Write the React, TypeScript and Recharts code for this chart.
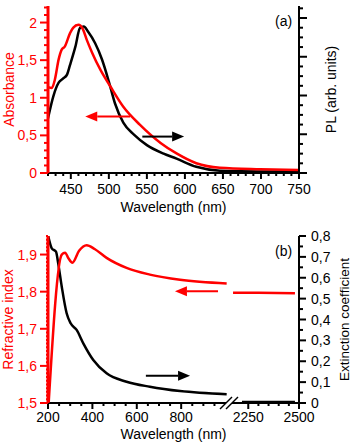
import { LineChart, Line, XAxis, YAxis, ReferenceLine } from 'recharts';

const FONT = '"Liberation Sans", Arial, Helvetica, sans-serif';
const RED = '#ff0000';
const BLACK = '#000000';

// panel (a): absorbance on the left axis, PL (arb. units) on the right axis
const absWl = [420, 425, 429, 434, 438, 442, 449, 453, 460, 466, 471, 478, 489, 502, 519, 541, 568, 589, 615, 646, 699, 750];
const absVal = [1.14, 1.13, 1.24, 1.51, 1.64, 1.68, 1.86, 1.93, 1.97, 1.91, 1.77, 1.6, 1.37, 1.15, 0.88, 0.64, 0.4, 0.26, 0.13, 0.07, 0.05, 0.04];
const plWl = [420, 427, 434, 440, 445, 449, 456, 462, 467, 473, 482, 491, 500, 508, 519, 533, 550, 572, 589, 615, 646, 699, 750];
const plVal = [1.41, 1.98, 2.33, 2.44, 2.54, 2.79, 3.26, 3.74, 3.78, 3.64, 3.35, 2.93, 2.36, 1.8, 1.3, 0.99, 0.72, 0.5, 0.37, 0.16, 0.06, 0.04, 0.04];

// panel (b): refractive index (left) and extinction coefficient (right), broken x axis
const nWlLo = [203, 262, 277, 292, 310, 340, 374, 410, 464, 554, 659, 795, 1005];
const nLo = [1.5, 1.9, 1.905, 1.89, 1.878, 1.91, 1.925, 1.915, 1.891, 1.864, 1.846, 1.832, 1.822];
const kWlLo = [201, 217, 236, 246, 262, 284, 302, 329, 359, 404, 464, 554, 659, 795, 1005];
const kLo = [0.8, 0.741, 0.725, 0.669, 0.557, 0.43, 0.382, 0.35, 0.286, 0.206, 0.142, 0.102, 0.078, 0.057, 0.042];
const nWlHi = [2175, 2300, 2480];
const nHi = [1.797, 1.797, 1.796];
const kWlHi = [2219, 2350, 2480];
const kHi = [0.004, 0.004, 0.004];

// tick labels
const aXMajor = [450, 500, 550, 600, 650, 700, 750];
const aXLabels = ['450', '500', '550', '600', '650', '700', '750'];
const aAbsMajor = [0, 0.5, 1, 1.5, 2];
const aAbsLabels = ['0', '0,5', '1', '1,5', '2'];
const aPlMajor = [0, 1, 2, 3, 4];
const bNMajor = [1.5, 1.6, 1.7, 1.8, 1.9];
const bNLabels = ['1,5', '1,6', '1,7', '1,8', '1,9'];
const bKMajor = [0, 0.1, 0.2, 0.3, 0.4, 0.5, 0.6, 0.7, 0.8];
const bKLabels = ['0', '0,1', '0,2', '0,3', '0,4', '0,5', '0,6', '0,7', '0,8'];
const bXLoMajor = [200, 400, 600, 800];
const bXLoLabels = ['200', '400', '600', '800'];
const bXHiMajor = [2250, 2500];
const bXHiLabels = ['2250', '2500'];
const BREAK_AT = 2160;

const absData = absWl.map((w, i) => ({ w, v: absVal[i] }));
const plData = plWl.map((w, i) => ({ w, v: plVal[i] }));
const nLoData = nWlLo.map((w, i) => ({ w, v: nLo[i] }));
const kLoData = kWlLo.map((w, i) => ({ w, v: kLo[i] }));
const nHiData = nWlHi.map((w, i) => ({ w, v: nHi[i] }));
const kHiData = kWlHi.map((w, i) => ({ w, v: kHi[i] }));

const steps = (a: number, b: number, step: number) => {
  const out: number[] = [];
  for (let i = 0; a + i * step <= b + 1e-9; i++) out.push(Math.round((a + i * step) * 1000) / 1000);
  return out;
};

type Side = 'bottom' | 'top' | 'left' | 'right';

function makeTick(side: Side, majors: number[], labels: string[] | null, color: string, majorLen: number, minorLen: number, gap = 21) {
  return (props: any) => {
    const { x, y, payload } = props;
    const v = Number(payload.value);
    if (v === BREAK_AT) {
      // the "//" axis break mark
      return (
        <g>
          <polygon points={`${x - 10},${y + 6} ${x + 2},${y - 6} ${x + 8},${y - 6} ${x - 4},${y + 6}`} fill="#fff" />
          <line x1={x - 10} y1={y + 6} x2={x + 2} y2={y - 6} stroke={BLACK} strokeWidth={1.5} />
          <line x1={x - 4} y1={y + 6} x2={x + 8} y2={y - 6} stroke={BLACK} strokeWidth={1.5} />
        </g>
      );
    }
    const i = majors.findIndex((m) => Math.abs(m - v) < 1e-6);
    const len = i >= 0 ? majorLen : minorLen;
    const label = i >= 0 && labels ? labels[i] : '';
    const ln = { stroke: color, strokeWidth: 2 };
    const txt = { fill: color, fontSize: 14, fontFamily: FONT };
    if (side === 'bottom') {
      return (
        <g>
          <line x1={x} y1={y} x2={x} y2={y + len} {...ln} />
          {label && <text x={x} y={y + gap} textAnchor="middle" {...txt}>{label}</text>}
        </g>
      );
    }
    if (side === 'top') {
      return <line x1={x} y1={y} x2={x} y2={y - len} {...ln} />;
    }
    if (side === 'left') {
      return (
        <g>
          <line x1={x} y1={y} x2={x - len} y2={y} {...ln} />
          {label && <text x={x - 11} y={y} textAnchor="end" dominantBaseline="central" {...txt}>{label}</text>}
        </g>
      );
    }
    return (
      <g>
        <line x1={x} y1={y} x2={x + len} y2={y} {...ln} />
        {label && <text x={x + 12} y={y} textAnchor="start" dominantBaseline="central" {...txt}>{label}</text>}
      </g>
    );
  };
}

const vTitle = (text: string, color: string, dx: number, size = 14) => (props: any) => {
  const vb = props.viewBox;
  const cx = vb.x + dx;
  const cy = vb.y + vb.height / 2;
  return (
    <text x={cx} y={cy} transform={`rotate(-90 ${cx} ${cy})`} textAnchor="middle" dominantBaseline="central" fill={color} fontSize={size} fontFamily={FONT}>
      {text}
    </text>
  );
};

const hTitle = (text: string, dy: number) => (props: any) => {
  const vb = props.viewBox;
  return (
    <text x={vb.x + vb.width / 2} y={vb.y + dy} textAnchor="middle" fill={BLACK} fontSize={14} fontFamily={FONT}>
      {text}
    </text>
  );
};

const arrow = (color: string) => (props: any) => {
  const { x1, y1, x2, y2 } = props;
  const dir = Math.sign(x2 - x1) || 1;
  const head = 12;
  return (
    <g>
      <line x1={x1} y1={y1} x2={x2 - dir * head} y2={y2} stroke={color} strokeWidth={2} />
      <polygon points={`${x2},${y2} ${x2 - dir * head},${y2 - 5} ${x2 - dir * head},${y2 + 5}`} fill={color} />
    </g>
  );
};

const axisBlack = { stroke: BLACK, strokeWidth: 2 };
const axisRed = { stroke: RED, strokeWidth: 3 };

function PanelA() {
  const xTicks = steps(420, 750, 10);
  return (
    <LineChart width={352} height={220} margin={{ top: 6, right: 0, bottom: 0, left: 0 }}>
      <XAxis xAxisId="x" dataKey="w" type="number" domain={[420, 750]} allowDataOverflow ticks={xTicks} interval={0}
        height={47} tickSize={0} tickMargin={0} tickLine={false} axisLine={axisBlack}
        tick={makeTick('bottom', aXMajor, aXLabels, BLACK, 6, 3, 21)} label={{ content: hTitle('Wavelength (nm)', 39) }} />
      <XAxis xAxisId="top" orientation="top" dataKey="w" type="number" domain={[420, 750]} allowDataOverflow ticks={xTicks} interval={0}
        height={0} tickSize={0} tickMargin={0} tickLine={false} axisLine={axisBlack}
        tick={makeTick('top', aXMajor, null, BLACK, 5, 3)} />
      <YAxis yAxisId="abs" type="number" domain={[0, 2.22]} allowDataOverflow ticks={steps(0, 2.2, 0.1)} interval={0}
        width={48} tickSize={0} tickMargin={0} tickLine={false} axisLine={axisRed}
        tick={makeTick('left', aAbsMajor, aAbsLabels, RED, 8, 4)} label={{ content: vTitle('Absorbance', RED, 8.5) }} />
      <YAxis yAxisId="pl" orientation="right" type="number" domain={[0, 4.31]} allowDataOverflow ticks={steps(0, 4.25, 0.25)} interval={0}
        width={53} tickSize={0} tickMargin={0} tickLine={false} axisLine={axisBlack}
        tick={makeTick('right', aPlMajor, null, BLACK, 8, 4)} label={{ content: vTitle('PL (arb. units)', BLACK, 32) }} />
      <Line xAxisId="x" yAxisId="pl" data={plData} dataKey="v" type="monotone" stroke={BLACK} strokeWidth={2.5} dot={false} isAnimationActive={false} />
      <Line xAxisId="x" yAxisId="abs" data={absData} dataKey="v" type="monotone" stroke={RED} strokeWidth={2.5} dot={false} isAnimationActive={false} />
      <ReferenceLine xAxisId="x" yAxisId="abs" segment={[{ x: 528, y: 0.75 }, { x: 469, y: 0.75 }]} shape={arrow(RED)} />
      <ReferenceLine xAxisId="x" yAxisId="abs" segment={[{ x: 544, y: 0.484 }, { x: 599, y: 0.484 }]} shape={arrow(BLACK)} />
    </LineChart>
  );
}

function PanelBLow() {
  const xTicks = steps(200, 1000, 50);
  return (
    <LineChart width={352} height={225} margin={{ top: 16, right: 0, bottom: 0, left: 0 }}>
      <XAxis xAxisId="lo" dataKey="w" type="number" domain={[200, 1020]} allowDataOverflow padding={{ left: 0, right: 69 }}
        ticks={xTicks} interval={0} height={42} tickSize={0} tickMargin={0} tickLine={false} axisLine={axisBlack}
        tick={makeTick('bottom', bXLoMajor, bXLoLabels, BLACK, 6, 3, 19)} label={{ content: hTitle('Wavelength (nm)', 36) }} />
      <XAxis xAxisId="loTop" orientation="top" dataKey="w" type="number" domain={[200, 1020]} allowDataOverflow padding={{ left: 0, right: 69 }}
        ticks={xTicks} interval={0} height={0} tickSize={0} tickMargin={0} tickLine={false} axisLine={axisBlack}
        tick={makeTick('top', bXLoMajor, null, BLACK, 5, 3)} />
      <YAxis yAxisId="n" type="number" domain={[1.5, 1.95]} allowDataOverflow ticks={steps(1.5, 1.95, 0.01)} interval={0}
        width={48} tickSize={0} tickMargin={0} tickLine={false} axisLine={axisRed}
        tick={makeTick('left', bNMajor, bNLabels, RED, 8, 2)} label={{ content: vTitle('Refractive index', RED, 8) }} />
      <YAxis yAxisId="k" orientation="right" type="number" domain={[0, 0.8]} allowDataOverflow ticks={steps(0, 0.8, 0.05)} interval={0}
        width={53} tickSize={0} tickMargin={0} tickLine={false} axisLine={axisBlack}
        tick={makeTick('right', bKMajor, bKLabels, BLACK, 7, 4)} label={{ content: vTitle('Extinction coefficient', BLACK, 45, 13.5) }} />
      <Line xAxisId="lo" yAxisId="k" data={kLoData} dataKey="v" type="monotone" stroke={BLACK} strokeWidth={2.5} dot={false} isAnimationActive={false} />
      <Line xAxisId="lo" yAxisId="n" data={nLoData} dataKey="v" type="monotone" stroke={RED} strokeWidth={2.5} dot={false} isAnimationActive={false} />
      <ReferenceLine xAxisId="lo" yAxisId="n" segment={[{ x: 966, y: 1.801 }, { x: 772, y: 1.801 }]} shape={arrow(RED)} />
      <ReferenceLine xAxisId="lo" yAxisId="k" segment={[{ x: 641, y: 0.131 }, { x: 840, y: 0.131 }]} shape={arrow(BLACK)} />
    </LineChart>
  );
}

function PanelBHigh() {
  const xTicks = [BREAK_AT, 2250, 2300, 2350, 2400, 2450, 2500];
  return (
    <LineChart width={352} height={225} margin={{ top: 16, right: 0, bottom: 0, left: 0 }}>
      <XAxis xAxisId="hi" dataKey="w" type="number" domain={[BREAK_AT, 2500]} allowDataOverflow padding={{ left: 182, right: 0 }}
        ticks={xTicks} interval={0} height={42} tickSize={0} tickMargin={0} tickLine={false} axisLine={false}
        tick={makeTick('bottom', bXHiMajor, bXHiLabels, BLACK, 6, 3, 19)} />
      <XAxis xAxisId="hiTop" orientation="top" dataKey="w" type="number" domain={[BREAK_AT, 2500]} allowDataOverflow padding={{ left: 182, right: 0 }}
        ticks={xTicks} interval={0} height={0} tickSize={0} tickMargin={0} tickLine={false} axisLine={false}
        tick={makeTick('top', bXHiMajor, null, BLACK, 5, 3)} />
      <YAxis yAxisId="n" type="number" domain={[1.5, 1.95]} allowDataOverflow width={48} tick={false} tickLine={false} axisLine={false} />
      <YAxis yAxisId="k" orientation="right" type="number" domain={[0, 0.8]} allowDataOverflow width={53} tick={false} tickLine={false} axisLine={false} />
      <Line xAxisId="hi" yAxisId="k" data={kHiData} dataKey="v" type="linear" stroke={BLACK} strokeWidth={3} dot={false} isAnimationActive={false} />
      <Line xAxisId="hi" yAxisId="n" data={nHiData} dataKey="v" type="linear" stroke={RED} strokeWidth={2.5} dot={false} isAnimationActive={false} />
    </LineChart>
  );
}

export default function App() {
  const tag = { position: 'absolute' as const, fontSize: 14, fontFamily: FONT, color: BLACK, lineHeight: '16px' };
  return (
    <div style={{ position: 'absolute', left: 0, top: 0, width: 352, height: 445, background: '#fff', fontFamily: FONT }}>
      <div style={{ position: 'absolute', left: 0, top: 0 }}>
        <PanelA />
      </div>
      <div style={{ position: 'absolute', left: 0, top: 220 }}>
        <PanelBLow />
      </div>
      <div style={{ position: 'absolute', left: 0, top: 220 }}>
        <PanelBHigh />
      </div>
      <div style={{ ...tag, left: 275, top: 13 }}>(a)</div>
      <div style={{ ...tag, left: 275, top: 243 }}>(b)</div>
    </div>
  );
}
